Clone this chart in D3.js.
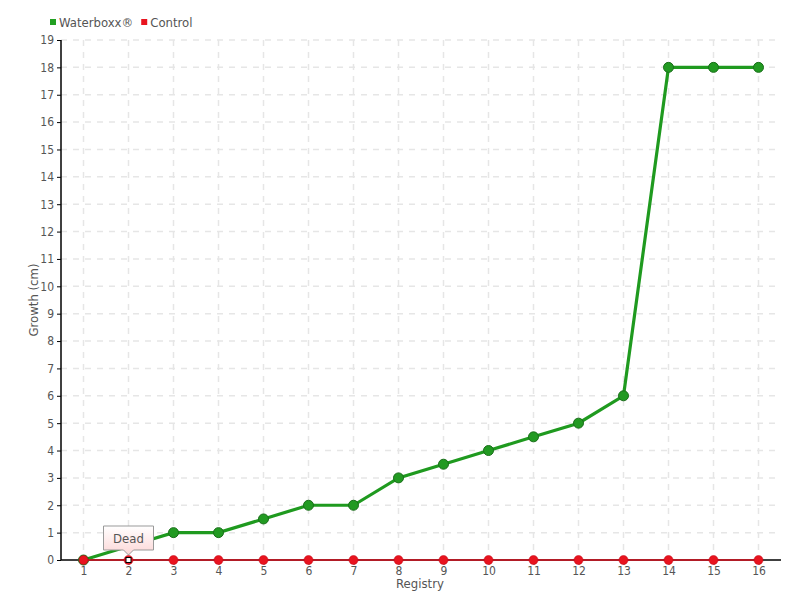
<!DOCTYPE html>
<html><head><meta charset="utf-8">
<script src="https://cdn.jsdelivr.net/npm/d3@7"></script>
<style>body{margin:0;background:#fff}text{font-family:"DejaVu Sans Condensed","DejaVu Sans",sans-serif;fill:#555}</style>
</head><body><svg id="c" width="800" height="600"></svg>
<script>
const categories = ["1","2","3","4","5","6","7","8","9","10","11","12","13","14","15","16"];
const waterboxx = [0,0.5,1,1,1.5,2,2,3,3.5,4,4.5,5,6,18,18,18];
const control = [0,0,0,0,0,0,0,0,0,0,0,0,0,0,0,0];
const yTicks = d3.range(0,20);
const seriesNames = ["Waterboxx®","Control"];
const tooltipText = "Dead";

const svg = d3.select("#c");
const L=61,R=781,T=40,B=560;
const x = d3.scalePoint().domain(categories).range([L,R]).padding(0.5);
const y = d3.scaleLinear().domain([0,19]).range([B,T]);

// grid
const g = svg.append("g");
g.selectAll(".hg").data(yTicks.slice(1)).join("line")
 .attr("x1",L).attr("x2",R).attr("y1",d=>y(d)).attr("y2",d=>y(d))
 .attr("stroke","#e6e6e6").attr("stroke-dasharray","6,6").attr("stroke-width",1.5);
g.selectAll(".vg").data(categories).join("line")
 .attr("x1",d=>x(d)).attr("x2",d=>x(d)).attr("y1",T).attr("y2",B)
 .attr("stroke","#e6e6e6").attr("stroke-dasharray","6,6").attr("stroke-width",1.5);

// axes
const ya = svg.append("g").attr("transform",`translate(${L},0)`)
 .call(d3.axisLeft(y).tickValues(yTicks).tickSize(4).tickPadding(3).tickSizeOuter(0));
ya.select(".domain").attr("stroke","#000").attr("stroke-width",1.5).attr("d",`M0,${T}V${B}`);
ya.selectAll("text").attr("font-size",12).style("fill","#555");
const xa = svg.append("g").attr("transform",`translate(0,${B})`)
 .call(d3.axisBottom(x).tickSize(5).tickPadding(1).tickSizeOuter(0));
xa.select(".domain").attr("stroke","#000").attr("stroke-width",1.5).attr("d",`M${L},0H${R}`);
xa.selectAll(".tick line").attr("stroke","#555");
xa.selectAll("text").attr("font-size",12).style("fill","#555");

svg.append("text").attr("x",420).attr("y",588).attr("text-anchor","middle").attr("font-size",13).text("Registry");
svg.append("text").attr("transform","translate(38,300) rotate(-90)").attr("text-anchor","middle").attr("font-size",13).text("Growth (cm)");

const line = d3.line().x((d,i)=>x(categories[i])).y(d=>y(d));
// waterboxx series
svg.append("path").datum(waterboxx).attr("d",line).attr("fill","none").attr("stroke","#1f9a1f").attr("stroke-width",3.2);
svg.selectAll(".wp").data(waterboxx).join("circle")
 .attr("cx",(d,i)=>x(categories[i])).attr("cy",d=>y(d)).attr("r",5)
 .attr("fill","#229a22").attr("stroke","#1a6e1a").attr("stroke-width",1);
// control series
svg.append("path").datum(control).attr("d",line).attr("fill","none").attr("stroke","#d8101e").attr("stroke-width",1.5);
svg.selectAll(".cp").data(control).join("circle")
 .attr("cx",(d,i)=>x(categories[i])).attr("cy",d=>y(d)).attr("r",4.5)
 .attr("fill","#e8141f").attr("stroke","#c00010").attr("stroke-width",0.5);
// highlighted point
svg.append("rect").attr("x",x("2")-2.5).attr("y",y(control[1])-2.5).attr("width",5).attr("height",5)
 .attr("fill","#fff").attr("stroke","#000").attr("stroke-width",1);

// tooltip
const defs = svg.append("defs");
const gr = defs.append("linearGradient").attr("id","tg").attr("x1",0).attr("y1",0).attr("x2",0).attr("y2",1);
gr.append("stop").attr("offset",0).attr("stop-color","#ffffff");
gr.append("stop").attr("offset",1).attr("stop-color","#fcd6d6");
const tx = x("2"), ty = y(control[1]) - 3;
svg.append("path")
 .attr("d",`M${tx-25},${ty-31}H${tx+25}V${ty-7}H${tx+5}L${tx},${ty-2}L${tx-5},${ty-7}H${tx-25}Z`)
 .attr("fill","url(#tg)").attr("stroke","#999").attr("stroke-width",1);
svg.append("text").attr("x",tx).attr("y",ty-14).attr("text-anchor","middle").attr("font-size",13).text(tooltipText);

// legend
const colors=["#22a022","#e8141f"];
let lx=50;
seriesNames.forEach((n,i)=>{
  svg.append("rect").attr("x",lx).attr("y",19).attr("width",6).attr("height",6).attr("fill",colors[i]);
  const t=svg.append("text").attr("x",lx+9).attr("y",27).attr("font-size",13).text(n);
  lx += 9 + t.node().getComputedTextLength() + 8;
});
</script></body></html>
